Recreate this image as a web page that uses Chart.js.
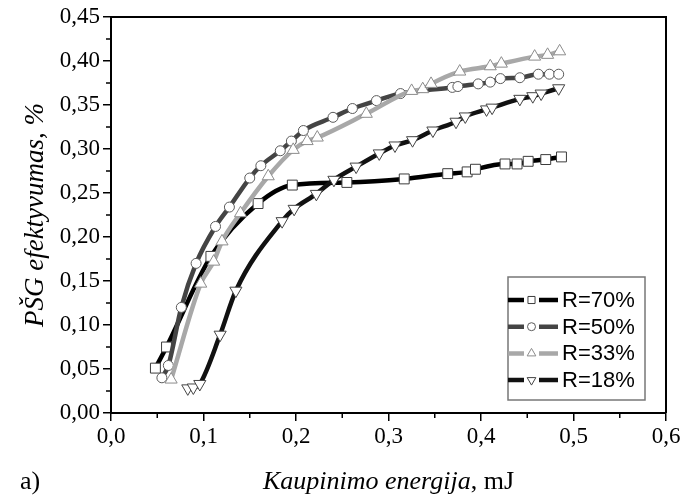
<!DOCTYPE html>
<html>
<head>
<meta charset="utf-8">
<script src="https://cdn.jsdelivr.net/npm/chart.js@4.4.0/dist/chart.umd.min.js"></script>
<style>
  html, body { margin:0; padding:0; background:#fff; }
  #wrap { width:687px; height:498px; }
</style>
</head>
<body>
<div id="wrap"><canvas id="chart"></canvas></div>
<script>
const seriesNames = ["R=70%", "R=50%", "R=33%", "R=18%"];

const r70x = [0.048, 0.060, 0.108, 0.159, 0.196, 0.255, 0.317, 0.364, 0.385, 0.394, 0.426, 0.439, 0.451, 0.470, 0.487];
const r70y = [0.051, 0.075, 0.178, 0.238, 0.259, 0.262, 0.266, 0.272, 0.274, 0.277, 0.283, 0.283, 0.286, 0.288, 0.291];

const r50x = [0.055, 0.062, 0.076, 0.092, 0.113, 0.128, 0.150, 0.162, 0.183, 0.195, 0.208, 0.240, 0.261, 0.287, 0.313, 0.369, 0.375, 0.397, 0.410, 0.421, 0.442, 0.462, 0.474, 0.484];
const r50y = [0.040, 0.054, 0.120, 0.170, 0.212, 0.234, 0.267, 0.281, 0.298, 0.309, 0.321, 0.336, 0.346, 0.355, 0.363, 0.370, 0.371, 0.374, 0.376, 0.380, 0.381, 0.385, 0.385, 0.385];

const r33x = [0.065, 0.097, 0.111, 0.120, 0.140, 0.170, 0.197, 0.212, 0.223, 0.276, 0.325, 0.337, 0.346, 0.377, 0.410, 0.422, 0.458, 0.472, 0.485];
const r33y = [0.038, 0.147, 0.172, 0.195, 0.227, 0.269, 0.299, 0.309, 0.313, 0.340, 0.366, 0.368, 0.374, 0.388, 0.394, 0.397, 0.405, 0.407, 0.411];

const r18x = [0.083, 0.089, 0.096, 0.118, 0.135, 0.185, 0.198, 0.222, 0.241, 0.265, 0.290, 0.307, 0.326, 0.348, 0.373, 0.383, 0.406, 0.412, 0.442, 0.456, 0.465, 0.484];
const r18y = [0.028, 0.029, 0.033, 0.089, 0.139, 0.218, 0.232, 0.249, 0.265, 0.280, 0.295, 0.304, 0.310, 0.321, 0.331, 0.337, 0.345, 0.347, 0.357, 0.360, 0.363, 0.369];

const xTicks = [0, 0.1, 0.2, 0.3, 0.4, 0.5, 0.6];
const yTicks = [0, 0.05, 0.10, 0.15, 0.20, 0.25, 0.30, 0.35, 0.40, 0.45];

const pts = (xs, ys) => xs.map((x, i) => ({ x: x, y: ys[i] }));

const styles = [
  { line:"#000000", edge:"#3c3c3c", shape:"rect", r:7, rot:0 },
  { line:"#444444", edge:"#5a5a5a", shape:"circle", r:5, rot:0 },
  { line:"#a8a8a8", edge:"#8c8c8c", shape:"triangle", r:7, rot:0 },
  { line:"#111111", edge:"#444444", shape:"triangle", r:7, rot:180 }
];
const allData = [pts(r70x, r70y), pts(r50x, r50y), pts(r33x, r33y), pts(r18x, r18y)];

const datasets = allData.map((d, i) => ({
  label: seriesNames[i],
  data: d,
  borderColor: styles[i].line,
  borderWidth: 4.5,
  cubicInterpolationMode: "monotone",
  pointStyle: styles[i].shape,
  pointRadius: styles[i].r,
  pointRotation: styles[i].rot,
  pointBackgroundColor: "#ffffff",
  pointBorderColor: styles[i].edge,
  pointBorderWidth: 1,
  order: 4 - i
}));

const serif = "'Liberation Serif', 'Times New Roman', serif";

// frame, minor ticks, titles and legend
const extras = {
  id: "extras",
  afterDraw(chart) {
    const ctx = chart.ctx;
    const a = chart.chartArea;
    const xs = chart.scales.x, ys = chart.scales.y;
    ctx.save();
    ctx.strokeStyle = "#000";
    ctx.lineWidth = 2;
    ctx.beginPath();
    ctx.moveTo(a.left, a.top); ctx.lineTo(a.right, a.top); ctx.lineTo(a.right, a.bottom);
    ctx.stroke();
    // minor ticks
    ctx.lineWidth = 1.5;
    ctx.beginPath();
    for (let i = 0; i < xTicks.length - 1; i++) {
      const px = xs.getPixelForValue((xTicks[i] + xTicks[i + 1]) / 2);
      ctx.moveTo(px, a.bottom); ctx.lineTo(px, a.bottom + 5);
    }
    for (let i = 0; i < yTicks.length - 1; i++) {
      const py = ys.getPixelForValue((yTicks[i] + yTicks[i + 1]) / 2);
      ctx.moveTo(a.left, py); ctx.lineTo(a.left - 5, py);
    }
    ctx.stroke();

    // y title
    ctx.fillStyle = "#000";
    ctx.save();
    ctx.translate(36, (a.top + a.bottom) / 2);
    ctx.rotate(-Math.PI / 2);
    ctx.font = "italic 27px " + serif;
    ctx.textAlign = "center";
    ctx.textBaseline = "middle";
    ctx.fillText("PŠG efektyvumas, %", 0, 0);
    ctx.restore();

    // x title, mixed style
    const t1 = "Kaupinimo energija", t2 = ", mJ";
    ctx.textBaseline = "alphabetic";
    ctx.textAlign = "left";
    ctx.font = "italic 26px " + serif;
    const w1 = ctx.measureText(t1).width;
    ctx.font = "26px " + serif;
    const w2 = ctx.measureText(t2).width;
    let sx = (a.left + a.right) / 2 - (w1 + w2) / 2;
    ctx.font = "italic 26px " + serif;
    ctx.fillText(t1, sx, 489);
    ctx.font = "26px " + serif;
    ctx.fillText(t2, sx + w1, 489);
    ctx.fillText("a)", 20, 489);

    // legend
    const lx = 508, ly = 277, lw = 137, lh = 123;
    ctx.lineWidth = 1.5;
    ctx.strokeStyle = "#777";
    ctx.strokeRect(lx, ly, lw, lh);
    ctx.font = "22px 'Liberation Sans', Arial, sans-serif";
    ctx.textBaseline = "middle";
    seriesNames.forEach((name, i) => {
      const cy = ly + 23 + i * 26.7;
      const st = styles[i];
      ctx.strokeStyle = st.line;
      ctx.lineWidth = 4.5;
      ctx.beginPath();
      ctx.moveTo(lx, cy); ctx.lineTo(lx + 16, cy);
      ctx.moveTo(lx + 31, cy); ctx.lineTo(lx + 50, cy);
      ctx.stroke();
      ctx.fillStyle = "#fff";
      ctx.strokeStyle = st.edge;
      ctx.lineWidth = 1;
      const r = st.shape === "circle" ? 4 : 5;
      Chart.helpers.drawPoint(ctx, { pointStyle: st.shape, rotation: st.rot, radius: r, borderWidth: 1 }, lx + 23.5, cy);
      ctx.fillStyle = "#000";
      ctx.fillText(name, lx + 54, cy + 1);
    });
    ctx.restore();
  }
};

new Chart(document.getElementById("chart"), {
  type: "line",
  data: { datasets: datasets },
  options: {
    responsive: true,
    maintainAspectRatio: false,
    animation: false,
    layout: { padding: { top: 17, right: 21, left: 0, bottom: 0 } },
    plugins: { legend: { display: false }, tooltip: { enabled: false } },
    scales: {
      x: {
        type: "linear",
        min: 0, max: 0.6,
        afterBuildTicks: s => { s.ticks = xTicks.map(v => ({ value: v })); },
        afterFit: s => { s.height = 85; },
        ticks: { color: "#000", font: { family: serif, size: 23 }, padding: 2,
                 callback: v => v.toFixed(1).replace(".", ",") },
        grid: { drawOnChartArea: false, drawTicks: true, tickLength: 8, color: "#000", lineWidth: 1.5 },
        border: { color: "#000", width: 2 }
      },
      y: {
        type: "linear",
        min: 0, max: 0.45,
        afterBuildTicks: s => { s.ticks = yTicks.map(v => ({ value: v })); },
        afterFit: s => { s.width = 111; },
        ticks: { color: "#000", font: { family: serif, size: 23 }, padding: 3,
                 callback: v => v.toFixed(2).replace(".", ",") },
        grid: { drawOnChartArea: false, drawTicks: true, tickLength: 8, color: "#000", lineWidth: 1.5 },
        border: { color: "#000", width: 2 }
      }
    }
  },
  plugins: [extras]
});
</script>
</body>
</html>
